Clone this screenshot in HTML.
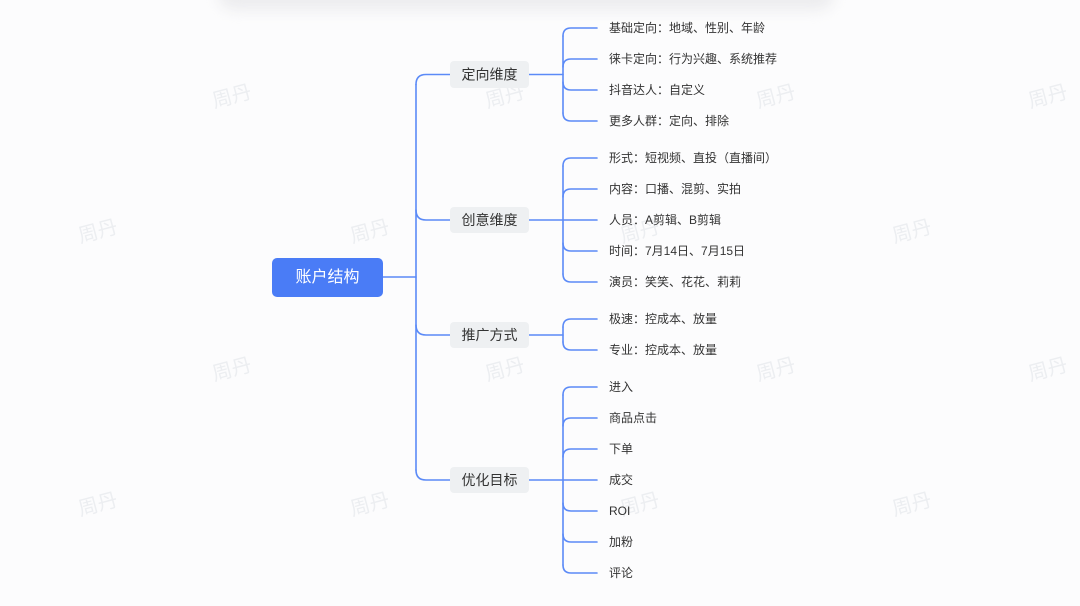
<!DOCTYPE html>
<html><head><meta charset="utf-8">
<style>
html,body{margin:0;padding:0;}
body{width:1080px;height:606px;overflow:hidden;background:#fcfcfd;position:relative;font-family:"Liberation Sans","Noto Sans CJK SC",sans-serif;}
.card{position:absolute;left:218px;top:-22px;width:616px;height:32px;background:#ececee;border-radius:18px;filter:blur(7px);}
svg{position:absolute;left:0;top:0;}
</style></head>
<body>
<div class="card"></div>
<svg width="1080" height="606" viewBox="0 0 1080 606" xmlns="http://www.w3.org/2000/svg" font-family="Liberation Sans, Noto Sans CJK SC, sans-serif">
<g fill="#eceef1" font-size="20">
<text x="232" y="97" transform="rotate(-15 232 97)" text-anchor="middle" dominant-baseline="central">周丹</text>
<text x="505" y="97" transform="rotate(-15 505 97)" text-anchor="middle" dominant-baseline="central">周丹</text>
<text x="776" y="97" transform="rotate(-15 776 97)" text-anchor="middle" dominant-baseline="central">周丹</text>
<text x="1048" y="97" transform="rotate(-15 1048 97)" text-anchor="middle" dominant-baseline="central">周丹</text>
<text x="98" y="232" transform="rotate(-15 98 232)" text-anchor="middle" dominant-baseline="central">周丹</text>
<text x="370" y="232" transform="rotate(-15 370 232)" text-anchor="middle" dominant-baseline="central">周丹</text>
<text x="640" y="232" transform="rotate(-15 640 232)" text-anchor="middle" dominant-baseline="central">周丹</text>
<text x="912" y="232" transform="rotate(-15 912 232)" text-anchor="middle" dominant-baseline="central">周丹</text>
<text x="232" y="370" transform="rotate(-15 232 370)" text-anchor="middle" dominant-baseline="central">周丹</text>
<text x="505" y="370" transform="rotate(-15 505 370)" text-anchor="middle" dominant-baseline="central">周丹</text>
<text x="776" y="370" transform="rotate(-15 776 370)" text-anchor="middle" dominant-baseline="central">周丹</text>
<text x="1048" y="370" transform="rotate(-15 1048 370)" text-anchor="middle" dominant-baseline="central">周丹</text>
<text x="98" y="505" transform="rotate(-15 98 505)" text-anchor="middle" dominant-baseline="central">周丹</text>
<text x="370" y="505" transform="rotate(-15 370 505)" text-anchor="middle" dominant-baseline="central">周丹</text>
<text x="640" y="505" transform="rotate(-15 640 505)" text-anchor="middle" dominant-baseline="central">周丹</text>
<text x="912" y="505" transform="rotate(-15 912 505)" text-anchor="middle" dominant-baseline="central">周丹</text>
</g>
<g fill="none" stroke="#5b8af7" stroke-width="1.6" stroke-linecap="round">
<path d="M383 277 H416"/>
<path d="M416 84.5 Q416 74.5 426 74.5 H450"/>
<path d="M416 210 Q416 220 426 220 H450"/>
<path d="M416 325 Q416 335 426 335 H450"/>
<path d="M416 470 Q416 480 426 480 H450"/>
<path d="M416 84.5 V470"/>

<path d="M529 74.5 H563"/>
<path d="M563 36 Q563 28 571 28 H597"/>
<path d="M563 67 Q563 59 571 59 H597"/>
<path d="M563 82 Q563 90 571 90 H597"/>
<path d="M563 113 Q563 121 571 121 H597"/>
<path d="M563 36 V113"/>

<path d="M563 166 Q563 158 571 158 H597"/>
<path d="M563 197 Q563 189 571 189 H597"/>
<path d="M529 220 H597"/>
<path d="M563 243 Q563 251 571 251 H597"/>
<path d="M563 274 Q563 282 571 282 H597"/>
<path d="M563 166 V274"/>

<path d="M529 335 H563"/>
<path d="M563 327 Q563 319 571 319 H597"/>
<path d="M563 342 Q563 350 571 350 H597"/>
<path d="M563 327 V342"/>

<path d="M563 395 Q563 387 571 387 H597"/>
<path d="M563 426 Q563 418 571 418 H597"/>
<path d="M563 457 Q563 449 571 449 H597"/>
<path d="M529 480 H597"/>
<path d="M563 503 Q563 511 571 511 H597"/>
<path d="M563 534 Q563 542 571 542 H597"/>
<path d="M563 565 Q563 573 571 573 H597"/>
<path d="M563 395 V565"/>
</g>

<rect x="272" y="258" width="111" height="39" rx="5" fill="#4a7cf6"/>
<text x="327.5" y="277.5" fill="#fff" font-size="16" text-anchor="middle" dominant-baseline="central">账户结构</text>

<g fill="#eef0f2">
<rect x="450" y="61" width="79" height="27" rx="4"/>
<rect x="450" y="207" width="79" height="26" rx="4"/>
<rect x="450" y="322" width="79" height="26" rx="4"/>
<rect x="450" y="467" width="79" height="26" rx="4"/>
</g>
<g fill="#333" font-size="14" text-anchor="middle" dominant-baseline="central">
<text x="489.5" y="74.5">定向维度</text>
<text x="489.5" y="220">创意维度</text>
<text x="489.5" y="335">推广方式</text>
<text x="489.5" y="480">优化目标</text>
</g>

<g fill="#333" font-size="12" dominant-baseline="central">
<text x="609" y="28">基础定向：地域、性别、年龄</text>
<text x="609" y="59">徕卡定向：行为兴趣、系统推荐</text>
<text x="609" y="90">抖音达人：自定义</text>
<text x="609" y="121">更多人群：定向、排除</text>
<text x="609" y="158">形式：短视频、直投（直播间）</text>
<text x="609" y="189">内容：口播、混剪、实拍</text>
<text x="609" y="220">人员：A剪辑、B剪辑</text>
<text x="609" y="251">时间：7月14日、7月15日</text>
<text x="609" y="282">演员：笑笑、花花、莉莉</text>
<text x="609" y="319">极速：控成本、放量</text>
<text x="609" y="350">专业：控成本、放量</text>
<text x="609" y="387">进入</text>
<text x="609" y="418">商品点击</text>
<text x="609" y="449">下单</text>
<text x="609" y="480">成交</text>
<text x="609" y="511">ROI</text>
<text x="609" y="542">加粉</text>
<text x="609" y="573">评论</text>
</g>
</svg>
</body></html>
